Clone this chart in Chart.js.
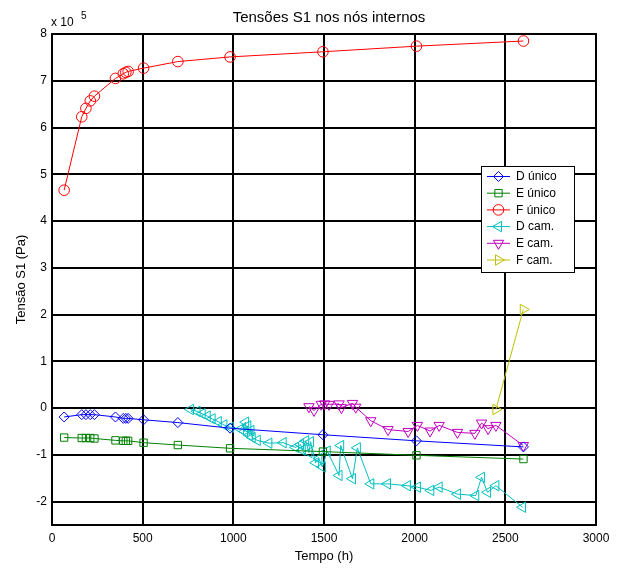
<!DOCTYPE html>
<html>
<head>
<meta charset="utf-8">
<script src="https://cdn.jsdelivr.net/npm/chart.js@4/dist/chart.umd.min.js"></script>
<style>
  html, body { margin: 0; padding: 0; background: #fff; }
  canvas { display: block; }
</style>
</head>
<body>
<canvas id="grafico" width="620" height="569"></canvas>
<script>
// Eixos
const xTicks = [0, 500, 1000, 1500, 2000, 2500, 3000];
const yTicks = [-2, -1, 0, 1, 2, 3, 4, 5, 6, 7, 8];

// Nós internos, malha única (tempo em h, tensão em 1e5 Pa)
const tempoUnico = [67, 164, 187, 211, 234, 350, 393, 407, 420, 505, 694, 982, 1494, 2010, 2600];
const dUnico = [-0.19, -0.14, -0.14, -0.14, -0.14, -0.19, -0.22, -0.22, -0.22, -0.25, -0.31, -0.43, -0.57, -0.70, -0.83];
const eUnico = [-0.63, -0.64, -0.64, -0.64, -0.65, -0.69, -0.70, -0.70, -0.70, -0.74, -0.79, -0.86, -0.93, -1.01, -1.09];
const fUnico = [4.66, 6.23, 6.41, 6.57, 6.67, 7.05, 7.15, 7.18, 7.20, 7.27, 7.41, 7.51, 7.62, 7.74, 7.85];

// Nós internos, construção em camadas
const tempoDCam = [764, 800, 828, 856, 883, 917, 948, 985, 1040, 1068, 1062, 1080, 1088, 1097, 1104, 1132, 1196, 1275,
                   1343, 1371, 1380, 1399, 1417, 1426, 1454, 1472, 1491, 1518, 1583, 1592, 1657, 1684, 1758, 1850,
                   1960, 2015, 2089, 2135, 2236, 2337, 2369, 2402, 2448, 2595];
const dCam = [-0.03, -0.07, -0.12, -0.17, -0.23, -0.29, -0.36, -0.41, -0.45, -0.30, -0.50, -0.38, -0.58, -0.48, -0.63, -0.69, -0.75, -0.74,
              -0.84, -0.78, -0.90, -0.70, -0.95, -0.72, -1.17, -1.08, -1.26, -0.92, -1.44, -0.80, -1.51, -0.85, -1.62, -1.62,
              -1.66, -1.69, -1.76, -1.69, -1.84, -1.87, -1.48, -1.80, -1.66, -2.12];

const tempoECam = [1417, 1445, 1485, 1504, 1528, 1583, 1596, 1657, 1675, 1758, 1853, 1964, 2015, 2085, 2135, 2236, 2332, 2369, 2405, 2448, 2599];
const eCam = [0.03, -0.05, 0.08, 0.09, 0.08, 0.09, 0.01, 0.10, 0.02, -0.27, -0.46, -0.50, -0.37, -0.49, -0.37, -0.52, -0.54, -0.32, -0.44, -0.37, -0.80];

const tempoFCam = [2448, 2599];
const fCam = [-0.03, 2.11];

const serieNomes = ['D único', 'E único', 'F único', 'D cam.', 'E cam.', 'F cam.'];
const tituloTexto = 'Tensões S1 nos nós internos';
const rotuloX = 'Tempo (h)';
const rotuloY = 'Tensão S1 (Pa)';

const FONTE = '"Liberation Sans", Arial, Helvetica, sans-serif';

function pares(xs, ys) {
  return xs.map((x, i) => ({ x: x, y: ys[i] }));
}

function serie(nome, xs, ys, cor, estilo, rot, raio) {
  return {
    label: nome,
    data: pares(xs, ys),
    showLine: true,
    borderColor: cor,
    borderWidth: 1,
    backgroundColor: 'rgba(0,0,0,0)',
    pointBorderColor: cor,
    pointBackgroundColor: 'rgba(0,0,0,0)',
    pointBorderWidth: 1,
    pointStyle: estilo,
    pointRotation: rot,
    pointRadius: raio,
    pointHoverRadius: raio,
    tension: 0
  };
}

const datasets = [
  serie(serieNomes[0], tempoUnico, dUnico, '#0000ff', 'rectRot', 0, 5),
  serie(serieNomes[1], tempoUnico, eUnico, '#008000', 'rect', 0, 5.2),
  serie(serieNomes[2], tempoUnico, fUnico, '#ff0000', 'circle', 0, 5.3),
  serie(serieNomes[3], tempoDCam, dCam, '#00bfbf', 'triangle', -90, 6),
  serie(serieNomes[4], tempoECam, eCam, '#bf00bf', 'triangle', 180, 6),
  serie(serieNomes[5], tempoFCam, fCam, '#bfbf00', 'triangle', 90, 6)
];

// Desenha um marcador oco para a legenda
function marcador(ctx, ds, x, y) {
  if (Chart.helpers && Chart.helpers.drawPoint) {
    ctx.fillStyle = 'rgba(0,0,0,0)';
    ctx.strokeStyle = ds.pointBorderColor;
    ctx.lineWidth = 1;
    Chart.helpers.drawPoint(ctx, {
      pointStyle: ds.pointStyle,
      rotation: ds.pointRotation,
      radius: ds.pointRadius,
      borderWidth: 1
    }, x, y);
  }
}

const moldura = {
  id: 'moldura',
  afterDraw(chart) {
    const { ctx, chartArea: a } = chart;
    ctx.save();

    // Caixa dos eixos
    ctx.strokeStyle = '#000';
    ctx.lineWidth = 2;
    ctx.strokeRect(a.left, a.top, a.right - a.left, a.bottom - a.top);

    ctx.fillStyle = '#000';
    // Título
    ctx.font = '15px ' + FONTE;
    ctx.textAlign = 'center';
    ctx.textBaseline = 'middle';
    ctx.fillText(tituloTexto, (a.left + a.right) / 2 + 5, 18);

    // Rótulo do eixo x
    ctx.font = '13px ' + FONTE;
    ctx.fillText(rotuloX, (a.left + a.right) / 2, 556);

    // Rótulo do eixo y
    ctx.save();
    ctx.translate(21, (a.top + a.bottom) / 2);
    ctx.rotate(-Math.PI / 2);
    ctx.fillText(rotuloY, 0, 0);
    ctx.restore();

    // Fator de escala
    ctx.font = '12px ' + FONTE;
    ctx.textAlign = 'left';
    ctx.textBaseline = 'alphabetic';
    ctx.fillText('x 10', a.left - 1, 26);
    ctx.font = '10px ' + FONTE;
    ctx.fillText('5', a.left + 29, 19);

    // Legenda
    const lx = 481, ly = 166, lw = 93, lh = 106;
    ctx.fillStyle = '#fff';
    ctx.fillRect(lx, ly, lw, lh);
    ctx.strokeStyle = '#000';
    ctx.lineWidth = 1;
    ctx.strokeRect(lx + 0.5, ly + 0.5, lw, lh);
    ctx.font = '12px ' + FONTE;
    ctx.textBaseline = 'middle';
    chart.data.datasets.forEach((ds, i) => {
      const y = ly + 10.5 + i * 16.7;
      ctx.strokeStyle = ds.borderColor;
      ctx.lineWidth = 1;
      ctx.beginPath();
      ctx.moveTo(lx + 6, y);
      ctx.lineTo(lx + 29, y);
      ctx.stroke();
      marcador(ctx, ds, lx + 17.5, y);
      ctx.fillStyle = '#000';
      ctx.fillText(ds.label, lx + 35, y + 0.5);
    });

    ctx.restore();
  }
};

new Chart(document.getElementById('grafico'), {
  type: 'scatter',
  data: { datasets: datasets },
  options: {
    responsive: false,
    animation: false,
    events: [],
    layout: { padding: { top: 34, right: 24, left: 0, bottom: 0 } },
    plugins: {
      legend: { display: false },
      title: { display: false },
      tooltip: { enabled: false }
    },
    scales: {
      x: {
        type: 'linear',
        min: 0,
        max: 3000,
        afterBuildTicks: s => { s.ticks = xTicks.map(v => ({ value: v })); },
        afterFit: s => { s.height = 44; },
        grid: { color: '#000', lineWidth: 2, drawTicks: false },
        border: { display: false },
        ticks: {
          padding: 6,
          maxRotation: 0,
          autoSkip: false,
          color: '#000',
          font: { family: FONTE, size: 12 },
          callback: v => String(v)
        }
      },
      y: {
        type: 'linear',
        min: -2.5,
        max: 8,
        afterBuildTicks: s => { s.ticks = yTicks.map(v => ({ value: v })); },
        afterFit: s => { s.width = 52; },
        grid: { color: '#000', lineWidth: 2, drawTicks: false },
        border: { display: false },
        ticks: {
          padding: 5,
          autoSkip: false,
          color: '#000',
          font: { family: FONTE, size: 12 },
          callback: v => String(v)
        }
      }
    }
  },
  plugins: [moldura]
});
</script>
</body>
</html>
